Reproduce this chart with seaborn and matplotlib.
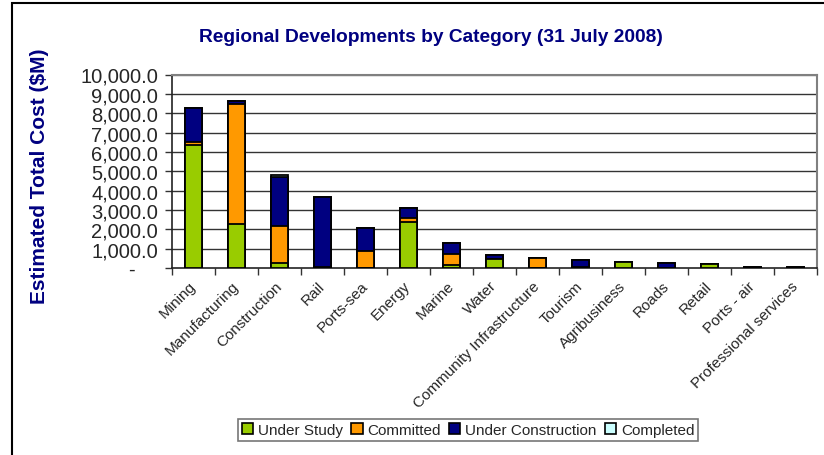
import numpy as np
import pandas as pd
import matplotlib
matplotlib.use("Agg")
import matplotlib.pyplot as plt
from matplotlib.patches import Rectangle, Patch
import seaborn as sns

categories = ["Mining", "Manufacturing", "Construction", "Rail", "Ports-sea", "Energy",
              "Marine", "Water", "Community Infrastructure", "Tourism", "Agribusiness",
              "Roads", "Retail", "Ports - air", "Professional services"]
under_study = [6350, 2290, 240, 0, 0, 2360, 160, 490, 0, 0, 320, 0, 200, 0, 0]
committed = [140, 6190, 1950, 60, 860, 240, 560, 0, 530, 70, 0, 0, 0, 0, 0]
under_construction = [1790, 140, 2500, 3630, 1190, 500, 560, 190, 0, 320, 0, 240, 0, 70, 60]
completed = [0, 0, 110, 0, 0, 0, 0, 0, 0, 0, 0, 0, 0, 0, 0]

series_names = ["Under Study", "Committed", "Under Construction", "Completed"]
colors = ["#99CC00", "#FF9900", "#000080", "#CCFFFF"]
navy = "#000080"

sns.set_theme(style="white")
plt.rcParams["font.family"] = ["Liberation Sans", "DejaVu Sans"]

df = pd.DataFrame({"Category": categories,
                   "Under Study": under_study,
                   "Committed": committed,
                   "Under Construction": under_construction,
                   "Completed": completed})
cum = df[series_names].cumsum(axis=1)
cum["Category"] = categories

fig = plt.figure(figsize=(8.24, 4.56), dpi=100)
ax = fig.add_axes([172/824, 1-269/456, (817-172)/824, (269-75.5)/456])

# draw from the top of the stack downward so each segment overlays the previous
for name, col in reversed(list(zip(series_names, colors))):
    sns.barplot(data=cum, x="Category", y=name,
                order=categories, color=col, width=0.41, edgecolor="black",
                linewidth=1.3, saturation=1, ax=ax, zorder=3)

ax.set_xlim(-0.5, len(categories) - 0.5)
ax.set_ylim(0, 10000)
yt = np.arange(0, 10001, 1000)
ax.set_yticks(yt)
ax.set_yticklabels(["-    " if v == 0 else f"{v:,.1f}" for v in yt], fontsize=14.5)
for v in yt[1:]:
    ax.axhline(v, color="#333333" if v < 10000 else "#808080", lw=1, zorder=1)

ax.set_xticks(range(len(categories)))
ax.set_xticklabels(categories, rotation=45, ha="right", va="center", rotation_mode="anchor",
                   fontsize=11)
ax.set_xticks(np.arange(-0.5, len(categories), 1), minor=True)
ax.tick_params(axis="x", which="major", length=0, pad=11)
ax.tick_params(axis="x", which="minor", length=5, width=1, color="#333333", direction="out", bottom=True)
ax.tick_params(axis="y", length=5, width=1, color="#333333", direction="out", left=True, pad=5)
ax.set_xlabel("")
ax.set_ylabel("Estimated Total Cost ($M)", fontsize=15, fontweight="bold", color=navy)
ax.yaxis.set_label_coords((49-172)/645, 0.48)

for s in ["left", "bottom"]:
    ax.spines[s].set_color("#222222")
    ax.spines[s].set_linewidth(1.2)
for s in ["top", "right"]:
    ax.spines[s].set_color("#808080")
    ax.spines[s].set_linewidth(1.5)
    ax.spines[s].set_visible(True)

fig.text(431/824, 1-38/456, "Regional Developments by Category (31 July 2008)",
         ha="center", va="center", fontsize=13.8, fontweight="bold", color=navy)

handles = [Patch(facecolor=c, edgecolor="black", linewidth=1.2, label=n)
           for n, c in zip(series_names, colors)]
leg = fig.legend(handles=handles, loc="center", bbox_to_anchor=(468/824, 1-431/456),
                 ncol=4, fontsize=11, frameon=True, fancybox=False, handlelength=0.75,
                 handleheight=0.75, handletextpad=0.3, columnspacing=0.55, borderpad=0.25,
                 borderaxespad=0)
leg.get_frame().set_edgecolor("#555555")
leg.get_frame().set_linewidth(1.2)

fig.patches.append(Rectangle((12/824, -0.1), 1.2, 1 - 4/456 + 0.1, transform=fig.transFigure,
                             fill=False, edgecolor="black", linewidth=1.5))

fig.savefig("out.png", dpi=100)
